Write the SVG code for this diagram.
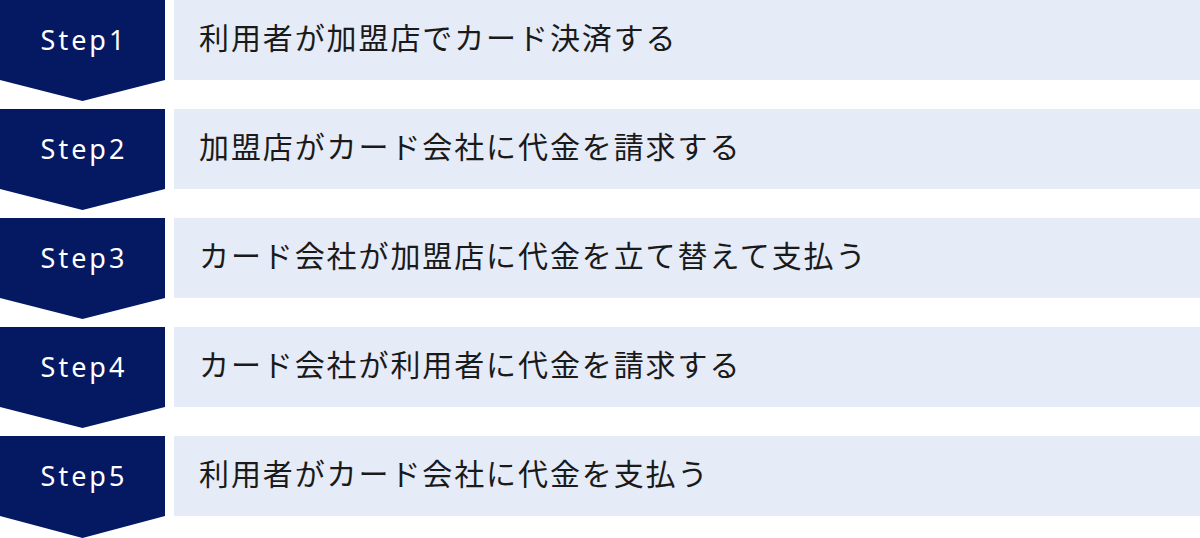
<svg xmlns="http://www.w3.org/2000/svg" width="1200" height="538" viewBox="0 0 1200 538">
<style>
.chev{fill:#051862}
.box{fill:#e6ebf8}
.st{font-family:"Noto Sans","Open Sans",sans-serif;font-size:27px;fill:#ffffff;letter-spacing:3px;text-anchor:middle;dominant-baseline:central}
.tx{font-family:"Noto Sans CJK JP","Noto Sans",sans-serif;font-size:30px;fill:#1a1a1a;letter-spacing:1.9px;dominant-baseline:central}
</style>
<rect width="1200" height="538" fill="#ffffff"/>
<g id="connectors"></g>
<g id="step1">
<polygon class="chev" points="0,0 165,0 165,80 82.5,101 0,80"/>
<rect class="box" x="174" y="0" width="1026" height="80"/>
<text class="st" x="84" y="39">Step1</text>
<text class="tx" x="199" y="36">利用者が加盟店でカード決済する</text>
</g>
<g id="step2">
<polygon class="chev" points="0,109 165,109 165,189 82.5,210 0,189"/>
<rect class="box" x="174" y="109" width="1026" height="80"/>
<text class="st" x="84" y="148">Step2</text>
<text class="tx" x="199" y="145">加盟店がカード会社に代金を請求する</text>
</g>
<g id="step3">
<polygon class="chev" points="0,218 165,218 165,298 82.5,319 0,298"/>
<rect class="box" x="174" y="218" width="1026" height="80"/>
<text class="st" x="84" y="257">Step3</text>
<text class="tx" x="199" y="254">カード会社が加盟店に代金を立て替えて支払う</text>
</g>
<g id="step4">
<polygon class="chev" points="0,327 165,327 165,407 82.5,428 0,407"/>
<rect class="box" x="174" y="327" width="1026" height="80"/>
<text class="st" x="84" y="366">Step4</text>
<text class="tx" x="199" y="363">カード会社が利用者に代金を請求する</text>
</g>
<g id="step5">
<polygon class="chev" points="0,436 165,436 165,516 82.5,538 0,516"/>
<rect class="box" x="174" y="436" width="1026" height="80"/>
<text class="st" x="84" y="475">Step5</text>
<text class="tx" x="199" y="472">利用者がカード会社に代金を支払う</text>
</g>
</svg>
